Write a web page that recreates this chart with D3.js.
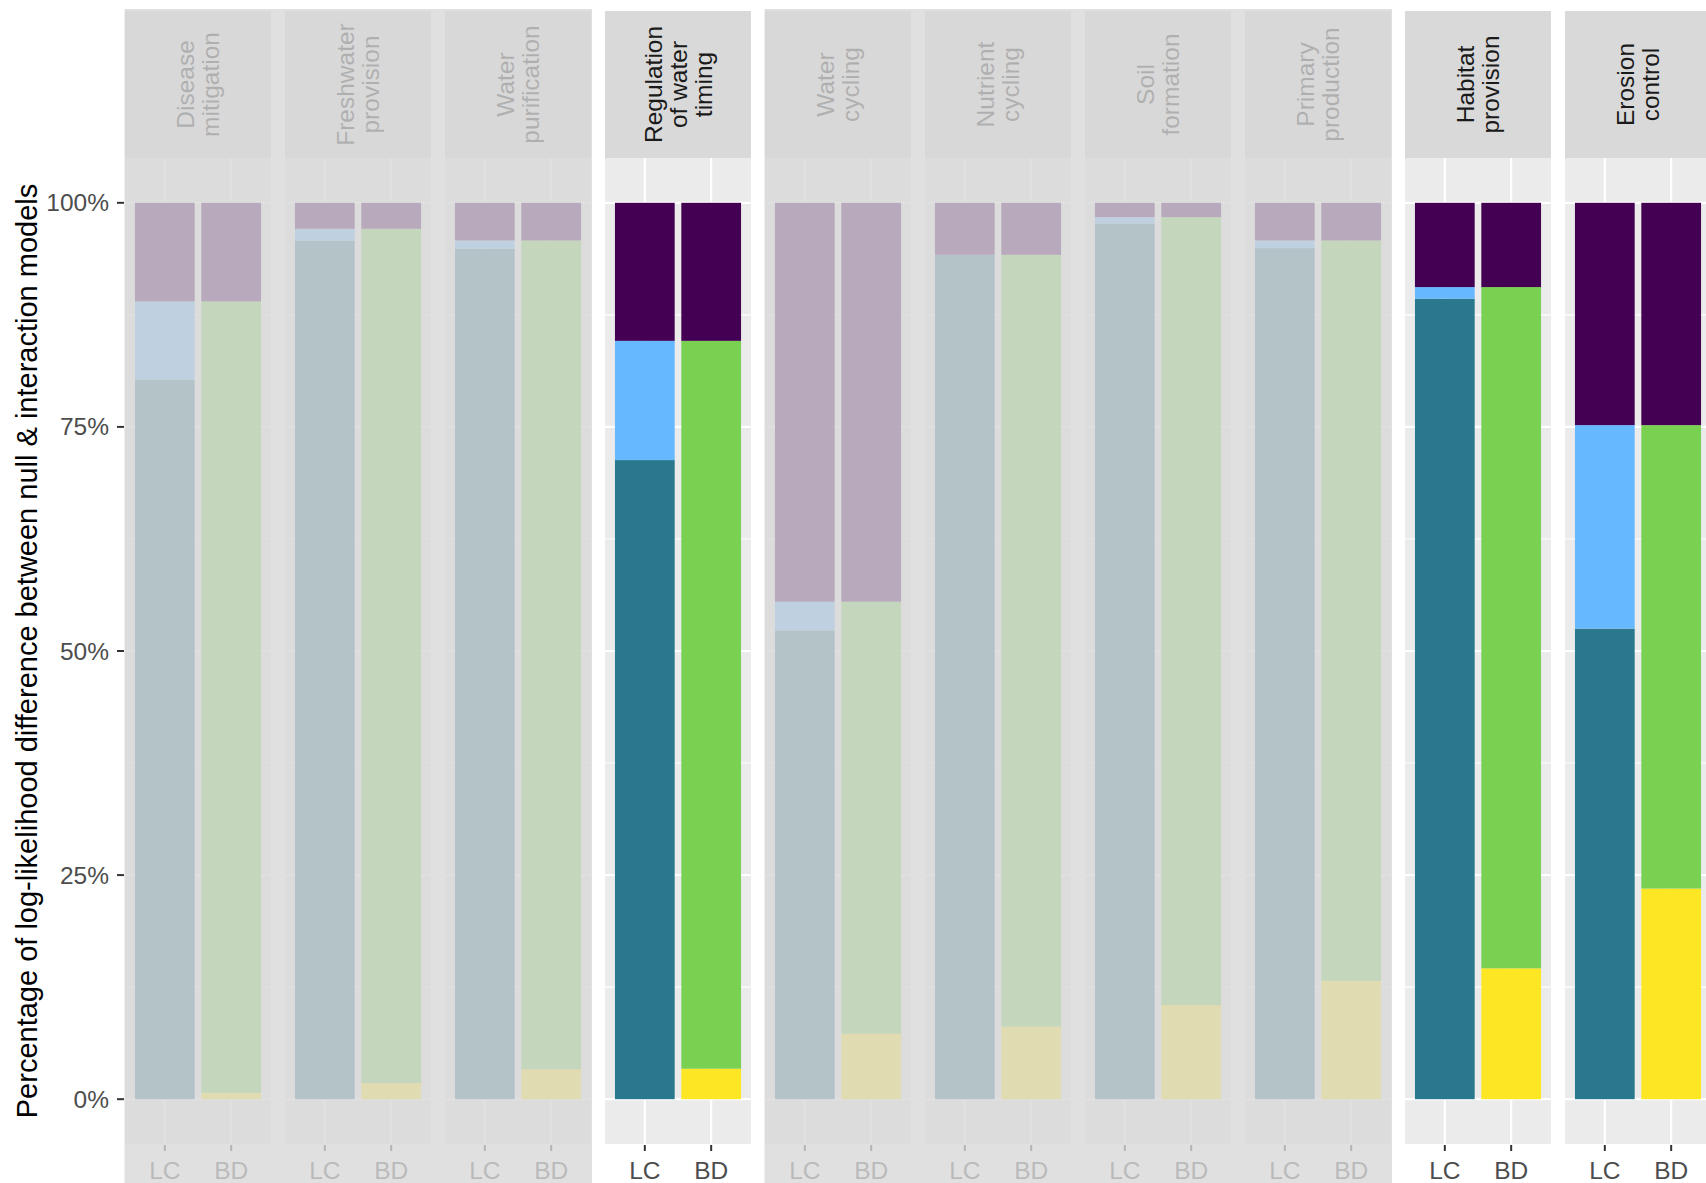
<!DOCTYPE html>
<html>
<head>
<meta charset="utf-8">
<script src="https://cdn.jsdelivr.net/npm/d3@7"></script>
<style>
body{margin:0;background:#fff;}
text{font-family:"Liberation Sans",Arial,sans-serif;}
</style>
</head>
<body>
<svg id="chart" width="1706" height="1183"></svg>
<script>
// strip labels, one entry per line
var services = [["Disease","mitigation"],["Freshwater","provision"],["Water","purification"],
    ["Regulation","of water","timing"],["Water","cycling"],["Nutrient","cycling"],
    ["Soil","formation"],["Primary","production"],["Habitat","provision"],["Erosion","control"]];
var highlighted = [false,false,false,true,false,false,false,false,true,true];
var barNames = ["LC","BD"];
var yTicks = [0,0.25,0.5,0.75,1];
var yMinor = [0.125,0.375,0.625,0.875];

// LC bar, bottom to top (%)
var lcOwn      = [80.3, 95.8, 94.9, 71.3, 52.3, 94.2, 97.7, 94.95, 89.3, 52.5];
var lcShared   = [8.7, 1.3, 0.9, 13.3, 3.2, 0, 0.7, 0.85, 1.3, 22.7];
// BD bar, bottom to top (%)
var bdOwn      = [0.7, 1.8, 3.35, 3.4, 7.3, 8.1, 10.5, 13.2, 14.6, 23.5];
var bdShared   = [88.3, 95.3, 92.45, 81.2, 48.2, 86.1, 87.9, 82.6, 76.0, 51.7];
// interaction share, top of both bars
var interaction = [11.0, 2.9, 4.2, 15.4, 44.5, 5.8, 1.6, 4.2, 9.4, 24.8];

var colors = {
    LC: {own:"#2A788E", shared:"#66B8FF", interaction:"#440154"},
    BD: {own:"#FDE725", shared:"#7AD151", interaction:"#440154"}
};

var svg = d3.select("#chart");
var firstLeft = 125, step = 160, panelW = 146;
var stripTop = 11, panelTop = 158, panelBottom = 1144;

var y = d3.scaleLinear().domain([-0.05,1.05]).range([panelBottom,panelTop]);
var x = d3.scaleBand().domain(barNames).range([0,panelW]).paddingInner(0.1).paddingOuter(0.15);

var rows = [];
services.forEach(function(s,i){
    rows.push({facet:i, bar:"LC", own:lcOwn[i]/100, shared:lcShared[i]/100, interaction:interaction[i]/100});
    rows.push({facet:i, bar:"BD", own:bdOwn[i]/100, shared:bdShared[i]/100, interaction:interaction[i]/100});
});
var stacked = d3.stack().keys(["own","shared","interaction"])(rows);

services.forEach(function(lines,i){
    var g = svg.append("g").attr("transform","translate("+(firstLeft+step*i)+",0)");
    // strip
    g.append("rect").attr("x",0).attr("y",stripTop).attr("width",panelW).attr("height",panelTop-stripTop)
        .style("fill","#D9D9D9");
    // panel
    g.append("rect").attr("x",0).attr("y",panelTop).attr("width",panelW).attr("height",panelBottom-panelTop)
        .style("fill","#EBEBEB");
    g.selectAll(".minor").data(yMinor).enter().append("line")
        .attr("x1",0).attr("x2",panelW)
        .attr("y1",function(d){return y(d);}).attr("y2",function(d){return y(d);})
        .style("stroke","#fff").style("stroke-width",1.1);
    g.selectAll(".major").data(yTicks).enter().append("line")
        .attr("x1",0).attr("x2",panelW)
        .attr("y1",function(d){return y(d);}).attr("y2",function(d){return y(d);})
        .style("stroke","#fff").style("stroke-width",2.2);
    g.selectAll(".vmajor").data(barNames).enter().append("line")
        .attr("x1",function(d){return x(d)+x.bandwidth()/2;}).attr("x2",function(d){return x(d)+x.bandwidth()/2;})
        .attr("y1",panelTop).attr("y2",panelBottom)
        .style("stroke","#fff").style("stroke-width",2.2);
    // bars
    stacked.forEach(function(layer){
        layer.forEach(function(seg){
            if(seg.data.facet!=i) return;
            g.append("rect")
                .attr("x",x(seg.data.bar)).attr("width",x.bandwidth())
                .attr("y",y(seg[1])).attr("height",Math.max(0,y(seg[0])-y(seg[1])))
                .style("fill",colors[seg.data.bar][layer.key]);
        });
    });
    // x ticks + labels
    g.selectAll(".xtick").data(barNames).enter().append("line")
        .attr("x1",function(d){return x(d)+x.bandwidth()/2;}).attr("x2",function(d){return x(d)+x.bandwidth()/2;})
        .attr("y1",panelBottom+1).attr("y2",panelBottom+7)
        .style("stroke","#333").style("stroke-width",2);
    g.selectAll(".xlab").data(barNames).enter().append("text")
        .attr("x",function(d){return x(d)+x.bandwidth()/2;}).attr("y",1179)
        .attr("text-anchor","middle").style("font-size","24.5px").style("fill","#4D4D4D")
        .text(function(d){return d;});
    // strip text
    var cx = panelW/2, cy = (stripTop+panelTop)/2;
    g.selectAll(".strip").data(lines).enter().append("text")
        .attr("transform",function(d,k){
            var off = (k-(lines.length-1)/2)*25;
            return "translate("+(cx+off)+","+cy+") rotate(-90)";
        })
        .attr("text-anchor","middle").attr("dy","0.35em")
        .style("font-size","24.5px").style("fill","#1A1A1A")
        .text(function(d){return d;});
});

// fade the non highlighted groups
var runs = [], start = null;
highlighted.forEach(function(h,i){
    if(!h && start===null) start = i;
    if((h || i==highlighted.length-1) && start!==null){
        runs.push([start, h ? i-1 : i]);
        start = null;
    }
});
runs.forEach(function(r){
    svg.append("rect")
        .attr("x",firstLeft+step*r[0]-0.5)
        .attr("y",9)
        .attr("width",step*(r[1]-r[0])+panelW+1.5)
        .attr("height",1183-9)
        .style("fill","#D8D8D8").style("opacity",0.79);
});

// y axis
var yax = svg.append("g");
yax.selectAll(".ytick").data(yTicks).enter().append("line")
    .attr("x1",117).attr("x2",124)
    .attr("y1",function(d){return y(d);}).attr("y2",function(d){return y(d);})
    .style("stroke","#333").style("stroke-width",2);
yax.selectAll(".ylab").data(yTicks).enter().append("text")
    .attr("x",109).attr("y",function(d){return y(d);}).attr("dy","0.35em")
    .attr("text-anchor","end").style("font-size","24.5px").style("fill","#4D4D4D")
    .text(function(d){return d3.format(".0%")(d);});
svg.append("text")
    .attr("transform","translate(27,"+((panelTop+panelBottom)/2)+") rotate(-90)")
    .attr("text-anchor","middle").attr("dy","0.35em")
    .style("font-size","29px").style("fill","#000")
    .text("Percentage of log-likelihood difference between null & interaction models");
</script>
</body>
</html>
